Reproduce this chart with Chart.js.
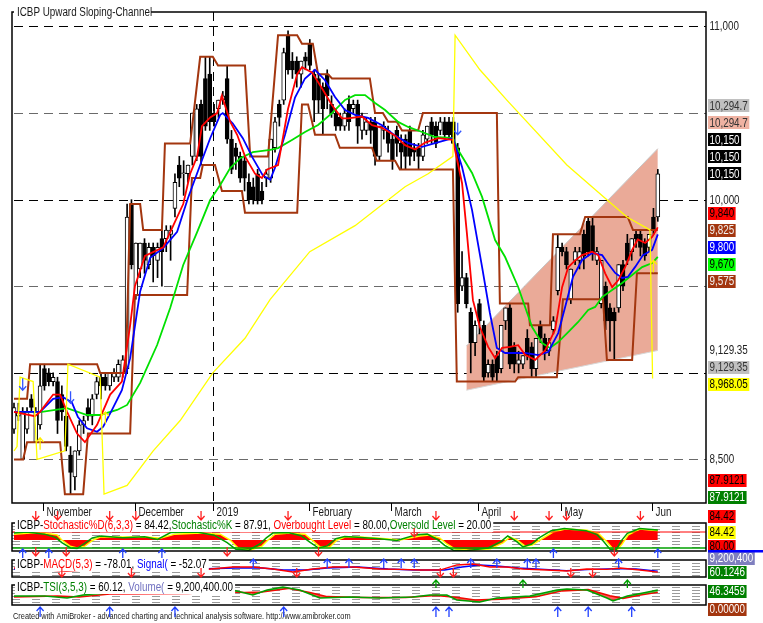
<!DOCTYPE html>
<html><head><meta charset="utf-8"><title>ICBP Upward Sloping Channel</title>
<script src="https://cdn.jsdelivr.net/npm/chart.js@4.4.1/dist/chart.umd.min.js"></script>
<style>
html,body{margin:0;padding:0;background:#fff;overflow:hidden}
#wrap{position:relative;width:763px;height:623px;background:#fff}
#wrap canvas{position:absolute;left:0;top:0}
</style></head><body>
<div id="wrap">
<canvas id="cMain" width="763" height="623"></canvas>
<canvas id="cStoch" width="763" height="623"></canvas>
<canvas id="cMacd" width="763" height="623"></canvas>
<canvas id="cTsi" width="763" height="623"></canvas>
</div>
<script>
// ---------------- DATA ----------------
const ticker = 'ICBP';
const chartTitle = 'Upward Sloping-Channel';
const monthNames = ['November','December','2019','February','March','April','May','Jun'];
const monthIdx   = [7, 28, 46, 68, 87, 107, 126, 147];

const opens = [8675,8750,8500,8675,8850,8600,8700,9025,9000,8950, 8950,8875,8750,8525,8400,8550,8700,8800,8750,8875,
 8975,8975,8925,8975,8975,9000,9025,9975,9450,9600, 9750,9625,9725,9650,9775,9775,9800,9950,10200,10150,
 10150,10250,10250,10550,10700,10725,10500,10525,10575,10700, 10350,10300,10250,10225,10100,10075,10150,10050,10125,10125,
 10300,10550,10575,10950,10800,10800,10725,10825,10900,10725, 10700,10650,10725,10550,10500,10475,10425,10550,10525,10550,
 10400,10400,10450,10450,10250,10400,10400,10350,10400,10325, 10350,10400,10300,10300,10250,10350,10450,10425,10400,10450,
 10450,10450,10300,9500,9550,9350,9175,9400,9275,9000, 9050,9100,9025,9300,9375,9150,9050,9050,9200,9150,
 9025,9275,9200,9125,9250,9475,9725,9700,9425,9650, 9650,9800,9875,9850,9650,9400,9500,9375,9350,9375,
 9625,9750,9700,9800,9800,9750,9725,9900,9900];
const highs = [8825,8825,8800,8800,8875,8800,9050,9050,9025,9000, 8975,8925,8800,8575,8550,8725,8750,8850,8875,8975,
 9000,9000,9000,9025,9075,9100,9975,10000,9750,9750, 9775,9750,9750,9750,9825,9850,9850,10150,10250,10225,
 10200,10500,10550,10575,10825,10825,10550,10575,10625,10775, 10400,10325,10275,10250,10150,10125,10175,10100,10175,10350,
 10475,10575,10875,10975,10850,10825,10800,10850,10925,10750, 10725,10675,10750,10600,10525,10500,10525,10600,10575,10575,
 10500,10475,10475,10475,10425,10450,10425,10375,10425,10375, 10375,10425,10325,10325,10400,10425,10475,10450,10475,10475,
 10475,10475,10325,9700,9575,9375,9300,9425,9300,9075, 9075,9125,9275,9375,9400,9175,9125,9100,9250,9175,
 9200,9300,9225,9200,9325,9800,9750,9725,9600,9725, 9725,9825,9900,9900,9725,9650,9525,9400,9375,9625,
 9650,9800,9775,9825,9825,9775,9800,9950,10175];
const lows = [8650,8725,8500,8650,8775,8600,8675,8900,8925,8925, 8650,8725,8550,8300,8325,8525,8650,8725,8700,8850,
 8850,8900,8900,8950,8950,8975,9000,9600,9425,9550, 9575,9600,9525,9550,9500,9700,9650,9900,10075,10025,
 10100,10200,10225,10200,10400,10400,10425,10475,10550,10325, 10150,10175,10100,10050,9975,9975,9975,9975,10075,10100,
 10275,10425,10550,10725,10700,10650,10650,10750,10750,10450, 10500,10375,10525,10475,10400,10400,10400,10400,10500,10325,
 10350,10375,10325,10200,10225,10350,10275,10175,10250,10175, 10175,10200,10225,10175,10225,10325,10325,10300,10375,10350,
 10350,10325,9350,9475,9375,9000,9100,9225,8950,8975, 8950,8950,9000,9250,9025,9000,9000,9025,9075,8975,
 8975,9175,9075,9100,9225,9450,9675,9600,9400,9625, 9600,9600,9675,9650,9625,9375,9250,9125,9075,9350,
 9475,9625,9650,9725,9675,9650,9700,9800,9875];
const closes = [8800,8775,8775,8775,8800,8775,8925,8925,8950,8975, 8725,8775,8575,8425,8550,8700,8725,8750,8850,8950,
 8925,8925,9000,9000,9050,9075,9900,9625,9750,9750, 9650,9725,9675,9725,9700,9825,9825,10100,10125,10150,
 10200,10500,10525,10250,10425,10450,10450,10575,10600,10350, 10175,10250,10125,10125,10000,10000,10000,10000,10150,10350,
 10450,10475,10850,10750,10750,10725,10800,10800,10775,10575, 10575,10525,10600,10500,10425,10425,10500,10450,10550,10425,
 10475,10450,10400,10250,10425,10425,10325,10225,10325,10275, 10250,10250,10275,10250,10375,10425,10375,10325,10450,10375,
 10375,10325,9400,9550,9400,9175,9275,9300,8975,9050, 8975,9000,9275,9375,9050,9050,9075,9100,9100,9025,
 9200,9200,9125,9175,9300,9725,9700,9625,9600,9700, 9700,9675,9700,9700,9700,9650,9300,9300,9300,9625,
 9500,9650,9775,9775,9725,9675,9800,9825,10150];

// short average (red)
const redIdx = [0,4.8,6,9,10.6,12.2,14.5,16.3,19.1,22.1,24.8,26.7,27.8,30.1,34.3,36.6,38.9,40.5,42.1,43.2,45.1,46.7,47.8,49.7,51.3,53.1,55.4,57,58.2,60.7,63,65.1,66.2,68.5,71,73.1,75.4,76.8,80,82.3,84.6,87.6,89.9,92.2,94.5,97.5,100.9,103,104.1,105.5,107.1,109,110.6,112.2,114,115.9,117.5,119.8,122.1,124.4,126,127.4,129,130.6,132.9,134.3,135.9,137.5,138.9,140.5,142.1,143.4,145.1,146.7,148];
const redVal = [8775,8750,8775,8875,8875,8775,8650,8600,8700,8875,8950,9275,9500,9675,9725,9850,9975,10150,10250,10425,10475,10500,10600,10450,10375,10250,10150,10125,10175,10200,10525,10725,10765,10735,10635,10545,10470,10470,10480,10430,10415,10370,10315,10290,10330,10355,10345,10095,9810,9420,9265,9150,9085,9145,9150,9160,9105,9075,9130,9250,9495,9610,9650,9680,9700,9680,9575,9495,9535,9610,9710,9770,9750,9785,9840];
// medium average (blue)
const blueIdx = [0,6,9,11.3,13.3,14.7,16.8,19.1,20.5,22.5,24.8,26.7,29,31.3,34.3,37.5,40,42.8,45.1,47.4,48,50.3,52.6,54.9,57.2,58.9,60,62.3,64.6,66.9,69.2,71.5,73.8,76.1,78.4,81.4,84.6,87.6,90.6,93.8,96.8,100.9,103,105.3,107.6,109.4,111,112.9,115.2,117.5,120.5,122.8,125.1,126.7,128.5,130.6,132.9,135.2,136.3,138.2,139.8,141.1,142.8,144.6,146.7,148];
const blueVal = [8775,8775,8850,8860,8830,8745,8680,8660,8690,8785,8900,9085,9470,9665,9720,9815,10010,10200,10355,10490,10500,10440,10355,10240,10140,10115,10185,10375,10590,10700,10750,10690,10593,10518,10490,10472,10430,10370,10327,10305,10327,10356,10189,9940,9612,9346,9144,9115,9115,9115,9103,9120,9230,9380,9554,9652,9692,9680,9640,9577,9548,9554,9612,9680,9710,9800];
// long average (green)
const greenIdx = [0,6.4,12.2,16.8,19.8,23.7,26,29,32.9,35.9,38.9,42.1,45.1,47.4,49.7,52,54.9,58.9,60.7,63.9,66.9,69.9,73.1,76.1,78.4,80.7,83,85.3,88.3,90.6,93.8,96.8,100.9,102.1,105.3,107.6,110.6,112.9,115.9,119.1,121.4,123.2,125.1,127.4,129.7,132,133.6,135.2,137.5,139.8,142.1,144.4,146.7,148];
const greenVal = [8775,8775,8797,8757,8757,8786,8815,8942,9161,9375,9623,9813,9998,10085,10183,10240,10275,10287,10298,10345,10391,10431,10500,10576,10604,10604,10558,10518,10449,10420,10391,10362,10356,10287,10154,10016,9767,9669,9496,9265,9172,9144,9178,9236,9294,9363,9381,9438,9479,9519,9565,9611,9634,9670];
// yellow line
const yellowIdx = [0,0.7,1.4,4.4,5.3,11.7,12.4,19.8,20.7,26,32,38.2,45.7,53.1,58.9,68,78.4,89.9,95.2,100.9,101.4,107.1,113.3,127.1,136.3,140.9,146.2,146.8];
const yellowVal = [8550,8575,8975,8950,8500,8550,9050,8975,8300,8350,8550,8725,9000,9200,9425,9700,9850,10075,10150,10250,10950,10750,10575,10200,10000,9900,9825,8968.05];
// brown price channel
const upIdx = [0,3,3.7,19.1,19.8,25.7,26.7,29,29.7,34,34.7,40.5,42.8,45.7,46.9,53.1,54.3,58.4,60.7,65.1,66.2,68.7,69.9,72.2,73.1,81.8,83,84.8,86,88,89.2,92.9,94,111,111.7,118.2,118.6,123.2,123.9,130.1,131.3,141.1,142.3,148];
const upVal = [8850,8850,9050,9050,9000,9000,9975,9975,9825,9825,10325,10325,10825,10825,10775,10775,10250,10250,10950,10950,10900,10900,10725,10725,10700,10700,10500,10500,10450,10450,10400,10400,10500,10500,9400,9400,9275,9275,9800,9800,9900,9900,9825,9825];
const loIdx = [0,2.1,3,10.6,11.7,15.9,17,26.7,27.8,39.8,40.9,42.8,43.4,46.2,47.8,52.4,53.1,65.1,66.2,67.6,69.2,73.8,74.9,82.3,83.4,87.6,88.7,100.9,101.8,115.2,115.9,124.8,126.2,135.4,136.3,142.1,143.2,148];
const loVal = [8500,8500,8600,8600,8300,8300,8650,8650,9450,9450,10125,10125,10200,10200,10050,10050,9925,9925,10550,10550,10375,10375,10300,10300,10225,10225,10175,10175,8950,8950,8975,8975,9425,9425,9075,9075,9575,9575];
// upward sloping regression channel
const chanIdx = [104, 148];
const chanUp = [9155, 10294.7];
const chanLo = [8900, 9129.35];
// signal arrows on price
const blueDownIdx = [2, 13, 102];
const blueDownVal = [8900, 8825, 10375];
const yellowUpIdx = [6, 21, 147];
const yellowUpVal = [8625, 8775, 9650];

// Stochastic
const stochDIdx = [0,3.7,7.1,9.9,11,12.9,14.5,16.3,18.2,19.8,24.4,30.6,33.6,37,42.8,47.4,49.7,51.5,54.3,57,58.4,60,63.4,66.9,68.5,70.3,72.6,74.3,76.1,79.5,84.1,88.7,93.3,95.6,97.9,99.5,101.4,104.8,109.4,112.4,114,115.6,117.5,119.1,120.9,123.9,126.7,131.7,134.3,135.9,137.5,138.6,139.8,141.2,143.9,148];
const stochDVal = [72,76,76,69,50,27,20,27,50,61,61,61,57,72,76,72,50,20,12,27,50,72,76,72,50,24,24,50,61,61,57,50,65,69,57,35,16,12,16,39,61,50,27,31,50,80,91,87,76,50,20,12,35,69,91,84.42];
const stochKIdx = [0,3,7,9.5,11,13,14.5,16,18,20,25,30,33,36,42,46,49,51,54,56.5,58,59.5,63,66,68,70,72,74,76,79,84,88,92.5,95,97.5,99,101,104,109,112,113.5,115.5,117,119,120.5,123.5,126.5,131.5,134,135.5,137,138.5,139.5,141,143.8,148];
const stochKVal = [76,80,72,60,40,20,18,35,58,65,58,62,52,78,80,68,40,15,12,35,58,76,78,66,42,20,28,55,63,60,55,48,70,72,50,30,12,10,20,45,65,45,24,35,56,85,93,85,70,45,15,15,45,75,93,87.9121];
const overbought = 80, oversold = 20, stochMid = 50;
const stochTopSell = [5,10,22,28,43,63,97,115,123,127,144];
const stochInSell = [92];
const stochBuy = [2,8,25,34,124,148];
const stochSell = [5,12,49,70,138];

// MACD
const macdIdx = [0,12,20,28,36,42.8,50.3,54.9,59.5,64.1,68.7,73.3,77.9,84.1,88.7,93.3,97.9,101.8,105.5,109.4,113.3,117,122.5,127.1,131.7,136.3,139.3,143.9,148];
const macdVal = [25,-50,0,100,50,-25,50,50,0,-75,0,50,50,0,-10,-25,-25,100,125,50,50,0,-25,-50,0,-10,25,-25,-78.01];
const sigIdx = [0,14,24,30,42,51,57,62,67,72,79,86,92,99,103,107,111,116,122,127,133,138,143,148];
const sigVal = [0,-25,0,75,0,25,25,-25,-25,25,50,0,-25,-25,50,100,75,25,-10,-40,-10,10,0,-52.07];
const macdBuy = [55,72,77,85,89,92,105,111,118,120,139];
const macdSell = [11,27,43,65,98,101,128,133];

// TSI
const tsiIdx = [0,7.1,12.2,15.9,19.8,35.2,42.8,50.3,54.9,58.2,61.8,65.7,70.3,77.2,84.1,91.7,95.6,99.5,101.8,107.1,111,118.6,124.8,127.1,131.7,136.3,137.7,141,144.6,148];
const tsiVal = [24,24,12,30,42,42,42,60,30,60,78,60,12,18,12,18,30,30,0,-12,12,24,60,66,60,12,-6,24,42,60.1246];
const tsiSigIdx = [0,10,15,22,40,48,53,57,63,68,72,80,90,97,102,106,112,120,126,132,137,140,144,148];
const tsiSigVal = [18,24,18,36,40,50,45,48,70,45,20,15,15,28,15,0,5,20,55,62,25,10,30,46.3459];
const lastVolume = 9200400;
const volumeBase = 0;
const tsiUp = [97,117,141];
const tsiBuy = [6,22,37,62,97,100,125,132,142];

// ---------------- HELPERS ----------------
const X_MIN = -0.46, X_MAX = 159.08;
const pts = (idx, val) => idx.map((x, k) => ({x: x, y: val[k]}));
const last = a => a[a.length - 1];
const fmt = v => v.toLocaleString('en-US', {maximumFractionDigits: 2});

const NARROW = (() => {
  const c = document.createElement('canvas').getContext('2d');
  c.font = '20px monospace'; const w1 = c.measureText('abcdefghij ICBP 123').width;
  c.font = '20px "Liberation Sans Narrow", monospace'; const w2 = c.measureText('abcdefghij ICBP 123').width;
  return Math.abs(w1 - w2) > 0.5;
})();
const SX = NARROW ? 1 : 0.82;
function setFont(ctx, size) {
  ctx.font = size + 'px ' + (NARROW ? '"Liberation Sans Narrow"' : '"Liberation Sans", Arial, sans-serif');
}
function textW(ctx, s, size) { setFont(ctx, size); return ctx.measureText(s).width * SX; }
function drawText(ctx, s, x, y, size, color) {
  ctx.save(); setFont(ctx, size); ctx.fillStyle = color; ctx.textBaseline = 'middle'; ctx.textAlign = 'left';
  ctx.translate(x, y); ctx.scale(SX, 1); ctx.fillText(s, 0, 0); ctx.restore();
}
function drawRich(ctx, parts, x, y, size) {
  let w = 0; parts.forEach(p => { w += textW(ctx, p[0], size); });
  ctx.save(); ctx.fillStyle = '#fff'; ctx.fillRect(x - 2, y - 6, w + 4, 12); ctx.restore();
  let cx = x;
  parts.forEach(p => { drawText(ctx, p[0], cx, y, size, p[1]); cx += textW(ctx, p[0], size); });
}
function arrow(ctx, x, tip, dir, color, len) {
  len = len || 10;
  ctx.save(); ctx.strokeStyle = color; ctx.lineWidth = 1.3; ctx.setLineDash([]);
  const tail = dir === 1 ? tip + len : tip - len;
  const hy = dir === 1 ? tip + 4 : tip - 4;
  ctx.beginPath();
  ctx.moveTo(x, tail); ctx.lineTo(x, tip);
  ctx.moveTo(x - 3.5, hy); ctx.lineTo(x, tip); ctx.lineTo(x + 3.5, hy);
  ctx.stroke(); ctx.restore();
}
function labelBox(ctx, text, y, bg, fg) {
  const size = 12;
  const w = textW(ctx, text, size);
  if (bg) { ctx.save(); ctx.fillStyle = bg; ctx.fillRect(708, Math.round(y - 6.5), w + 3, 13); ctx.restore(); }
  drawText(ctx, text, 709.5, y + 0.5, size, fg || '#222');
}
// greedy placement: each label takes the free slot nearest to its own value
function placeLabels(fixed, items) {
  const placed = fixed.map(f => ({y: f.y0, grid: true}));
  const sep = q => q.grid ? 13 : 17;
  items.forEach(it => {
    const cands = [it.y0];
    placed.forEach(q => { cands.push(q.y - sep(q), q.y + sep(q)); });
    cands.sort((a, b) => (Math.abs(a - it.y0) - Math.abs(b - it.y0)) || (b - a));
    const ok = c => placed.every(q => Math.abs(c - q.y) >= sep(q) - 0.01);
    it.y = cands.find(ok);
    if (it.y === undefined) it.y = it.y0;
    placed.push({y: it.y, grid: false});
  });
}
function denseGrid(ctx, a, y1, y2) {
  ctx.save(); ctx.strokeStyle = '#9a9a9a'; ctx.lineWidth = 1; ctx.setLineDash([8, 12]);
  for (let y = y1; y <= y2; y += 3) { ctx.beginPath(); ctx.moveTo(a.left, y + 0.5); ctx.lineTo(a.right, y + 0.5); ctx.stroke(); }
  ctx.restore();
}
function frame(ctx, a) {
  ctx.save(); ctx.strokeStyle = '#000'; ctx.lineWidth = 1.5; ctx.setLineDash([]);
  ctx.strokeRect(a.left, a.top, a.right - a.left, a.bottom - a.top); ctx.restore();
}
const baseOpts = (padTop, padBottom, yMin, yMax) => ({
  responsive: false, animation: false, devicePixelRatio: 1, events: [],
  layout: {padding: {left: 12, top: padTop, right: 57, bottom: padBottom}},
  plugins: {legend: {display: false}, tooltip: {enabled: false}},
  scales: {
    x: {type: 'linear', min: X_MIN, max: X_MAX, display: false, offset: false},
    y: {type: 'linear', min: yMin, max: yMax, display: false}
  }
});
const lineDs = (data, color, width, order, extra) => Object.assign({
  type: 'line', data: data, borderColor: color, borderWidth: width, pointRadius: 0, tension: 0, fill: false, order: order
}, extra || {});

// ---------------- MAIN PRICE PANEL ----------------
const barIdx = opens.map((o, i) => i);
const bodyData = barIdx.map(i => ({x: i, y: [Math.min(opens[i], closes[i]), Math.max(opens[i], closes[i])]}));
const wickData = barIdx.map(i => ({x: i, y: [lows[i], highs[i]]}));
const bodyColors = barIdx.map(i => closes[i] >= opens[i] ? '#ffffff' : '#000000');
const gridVals = [11000, 10500, 10000, 9500, 9000, 8500];
const gridLabelVals = [11000, 10000, 8500];

const mainDecor = {
  id: 'mainDecor',
  beforeDatasetsDraw(chart) {
    const {ctx, chartArea: a, scales: {x, y}} = chart;
    ctx.save(); ctx.lineWidth = 1; ctx.setLineDash([9, 6]);
    gridVals.forEach(v => {
      const py = Math.round(y.getPixelForValue(v)) + 0.5;
      ctx.strokeStyle = v % 1000 === 0 ? '#000' : '#6a6a6a';
      ctx.beginPath(); ctx.moveTo(a.left + 2, py); ctx.lineTo(a.right, py); ctx.stroke();
    });
    const yx = Math.round(x.getPixelForValue(monthIdx[2])) - 0.5;
    ctx.strokeStyle = '#000';
    ctx.beginPath(); ctx.moveTo(yx, a.top); ctx.lineTo(yx, a.bottom); ctx.stroke();
    ctx.restore();
  },
  afterDraw(chart) {
    const {ctx, chartArea: a, scales: {x, y}} = chart;
    frame(ctx, a);
    // title
    ctx.save(); ctx.fillStyle = '#fff'; ctx.fillRect(14, 5, 137, 14); ctx.restore();
    drawText(ctx, ticker + ' ' + chartTitle, 17, 12.5, 12, '#1a1a1a');
    // month axis
    ctx.save(); ctx.strokeStyle = '#000'; ctx.lineWidth = 1;
    monthIdx.forEach((mi, k) => {
      const px = Math.round(x.getPixelForValue(mi)) - 0.5;
      ctx.beginPath(); ctx.moveTo(px, a.bottom); ctx.lineTo(px, a.bottom + 8); ctx.stroke();
      drawText(ctx, monthNames[k], px + 3, a.bottom + 10, 12, '#1a1a1a');
    });
    ctx.restore();
    // price arrows
    blueDownIdx.forEach((bi, k) => arrow(ctx, x.getPixelForValue(bi), y.getPixelForValue(blueDownVal[k]), -1, '#3355ff', 12));
    yellowUpIdx.forEach((bi, k) => arrow(ctx, x.getPixelForValue(bi), y.getPixelForValue(yellowUpVal[k]), 1, '#ffee00', 12));
    // right value labels
    const fixed = gridLabelVals.map(v => ({t: fmt(v), y0: y.getPixelForValue(v)}));
    const items = [
      {t: fmt(last(closes)), v: last(closes), bg: '#000', fg: '#fff'},
      {t: fmt(last(closes)), v: last(closes), bg: '#000', fg: '#fff'},
      {t: fmt(last(closes)), v: last(closes), bg: '#000', fg: '#fff'},
      {t: fmt(chanUp[1]), v: chanUp[1], bg: '#efb2a2', fg: '#333'},
      {t: fmt(chanUp[1]), v: chanUp[1], bg: '#c0c0c0', fg: '#333'},
      {t: fmt(last(upVal)), v: last(upVal), bg: '#a3360f', fg: '#f2f2f2'},
      {t: fmt(last(redVal)), v: last(redVal), bg: '#ff0000', fg: '#000'},
      {t: fmt(last(blueVal)), v: last(blueVal), bg: '#0000ff', fg: '#fff'},
      {t: fmt(last(greenVal)), v: last(greenVal), bg: '#00ff00', fg: '#000'},
      {t: fmt(last(loVal)), v: last(loVal), bg: '#a3360f', fg: '#f2f2f2'},
      {t: fmt(chanLo[1]), v: chanLo[1]},
      {t: fmt(chanLo[1]), v: chanLo[1], bg: '#c0c0c0', fg: '#333'},
      {t: fmt(last(yellowVal)), v: last(yellowVal), bg: '#ffff00', fg: '#000'}
    ];
    items.forEach(it => { it.y0 = y.getPixelForValue(it.v); });
    placeLabels(fixed, items);
    fixed.forEach(f => labelBox(ctx, f.t, f.y0));
    items.forEach(it => labelBox(ctx, it.t, it.y, it.bg, it.fg));
    // indicator value labels column
    const sub = [
      {t: last(stochKVal).toFixed(4), y: 480.5, bg: '#ff0000', fg: '#000'},
      {t: last(stochKVal).toFixed(4), y: 497.5, bg: '#008000', fg: '#fff'},
      {t: last(stochDVal).toFixed(2), y: 516, bg: '#ff0000', fg: '#000'},
      {t: last(stochDVal).toFixed(2), y: 532.5, bg: '#ffff00', fg: '#000'},
      {t: overbought.toFixed(2), y: 546, bg: '#ff0000', fg: '#000'},
      {t: fmt(lastVolume), y: 558.5, bg: '#7f7fbf', fg: '#fff'},
      {t: last(tsiVal).toFixed(4), y: 572.5, bg: '#008000', fg: '#fff'},
      {t: last(tsiSigVal).toFixed(4), y: 591, bg: '#008000', fg: '#fff'},
      {t: volumeBase.toFixed(5), y: 609, bg: '#a3360f', fg: '#fff'}
    ];
    sub.forEach(s => labelBox(ctx, s.t, s.y, s.bg, s.fg));
    ctx.save(); ctx.fillStyle = '#0000ff'; ctx.fillRect(708, 550, 55, 2.5); ctx.restore();
    // footer
    drawText(ctx, 'Created with AmiBroker - advanced charting and technical analysis software. http://www.amibroker.com', 13, 617, 9, '#222');
  }
};

new Chart(document.getElementById('cMain'), {
  type: 'bar',
  data: {datasets: [
    lineDs(pts(chanIdx, chanUp), '#c4c4c4', 1, 98),
    lineDs(pts(chanIdx, chanLo), '#d8d8d8', 1, 99, {fill: '-1', backgroundColor: 'rgb(234,170,152)'}),
    {type: 'bar', data: wickData, backgroundColor: '#000', borderWidth: 0, barThickness: 1, grouped: false, order: 60},
    {type: 'bar', data: bodyData, backgroundColor: bodyColors, borderColor: '#000', borderWidth: 1, borderSkipped: false,
     barThickness: 4, grouped: false, minBarLength: 1, order: 50},
    lineDs(pts(upIdx, upVal), '#a3360f', 2, 40),
    lineDs(pts(loIdx, loVal), '#a3360f', 2, 40),
    lineDs(pts(greenIdx, greenVal), '#00e000', 1.8, 30),
    lineDs(pts(blueIdx, blueVal), '#0000ff', 1.8, 20),
    lineDs(pts(redIdx, redVal), '#ff0000', 1.8, 10),
    lineDs(pts(yellowIdx, yellowVal), '#ffff00', 1.3, 5)
  ]},
  options: baseOpts(12, 120, 8248.8, 11083.7),
  plugins: [mainDecor]
});

// ---------------- STOCHASTIC PANEL ----------------
new Chart(document.getElementById('cStoch'), {
  type: 'line',
  data: {datasets: [
    lineDs(pts(stochKIdx, stochKVal), '#00a000', 1.5, 1),
    lineDs(pts(stochDIdx, stochDVal), '#ffff00', 1.5, 3, {fill: {value: stochMid}, backgroundColor: '#ff0000'}),
    lineDs([{x: X_MIN, y: overbought}, {x: X_MAX, y: overbought}], '#ff0000', 1, 2),
    lineDs([{x: X_MIN, y: oversold}, {x: X_MAX, y: oversold}], '#00a000', 1.5, 2)
  ]},
  options: baseOpts(523, 72, 8.75, 113.75),
  plugins: [{
    id: 'stochDecor',
    beforeDatasetsDraw(chart) { denseGrid(chart.ctx, chart.chartArea, 526, 549); },
    afterDraw(chart) {
      const {ctx, chartArea: a, scales: {x}} = chart;
      frame(ctx, a);
      drawRich(ctx, [[ticker + '-', '#000'], ['Stochastic%D(6,3,3)', '#ff0000'], [' = ' + last(stochDVal).toFixed(2) + ',', '#000'],
        ['Stochastic%K', '#008000'], [' = ' + last(stochKVal).toFixed(2) + ', ', '#000'], ['Overbought Level', '#ff0000'],
        [' = ' + overbought.toFixed(2) + ',', '#000'], ['Oversold Level', '#008000'], [' = ' + oversold.toFixed(2), '#000']], 17, 526, 12);
      stochTopSell.forEach(i => arrow(ctx, x.getPixelForValue(i), 520, -1, '#ff2020', 9));
      stochInSell.forEach(i => arrow(ctx, x.getPixelForValue(i), 537, -1, '#ff2020', 9));
      stochBuy.forEach(i => arrow(ctx, x.getPixelForValue(i), 549, 1, '#2040ff', 9));
      stochSell.forEach(i => arrow(ctx, x.getPixelForValue(i), 556, -1, '#ff2020', 9));
    }
  }]
});

// ---------------- MACD PANEL ----------------
new Chart(document.getElementById('cMacd'), {
  type: 'line',
  data: {datasets: [
    lineDs(pts(macdIdx, macdVal), '#ff0000', 1.3, 1),
    lineDs(pts(sigIdx, sigVal), '#0000ff', 1.3, 2)
  ]},
  options: baseOpts(560, 46, -200, 225),
  plugins: [{
    id: 'macdDecor',
    beforeDatasetsDraw(chart) { denseGrid(chart.ctx, chart.chartArea, 563, 575); },
    afterDraw(chart) {
      const {ctx, chartArea: a, scales: {x}} = chart;
      frame(ctx, a);
      drawRich(ctx, [[ticker + '-', '#000'], ['MACD(5,3)', '#ff0000'], [' = ' + last(macdVal).toFixed(2) + ', ', '#000'],
        ['Signal(', '#0000ff'], [' = ' + last(sigVal).toFixed(2), '#000']], 17, 565, 12);
      macdBuy.forEach(i => arrow(ctx, x.getPixelForValue(i), 559, 1, '#2040ff', 9));
      macdSell.forEach(i => arrow(ctx, x.getPixelForValue(i), 577, -1, '#ff2020', 9));
    }
  }]
});

// ---------------- TSI PANEL ----------------
new Chart(document.getElementById('cTsi'), {
  type: 'line',
  data: {datasets: [
    lineDs(pts(tsiIdx, tsiVal), '#00a000', 1.6, 1, {fill: {target: 1, above: 'rgba(0,170,0,0.55)', below: 'rgba(255,0,0,0.65)'}}),
    lineDs(pts(tsiSigIdx, tsiSigVal), '#ff0000', 1.6, 2)
  ]},
  options: baseOpts(585, 18, -30, 90),
  plugins: [{
    id: 'tsiDecor',
    beforeDatasetsDraw(chart) { denseGrid(chart.ctx, chart.chartArea, 587, 603); },
    afterDraw(chart) {
      const {ctx, chartArea: a, scales: {x}} = chart;
      frame(ctx, a);
      drawRich(ctx, [[ticker + '-', '#000'], ['TSI(3,5,3)', '#008000'], [' = ' + last(tsiVal).toFixed(2) + ', ', '#000'],
        ['Volume(', '#7070c0'], [' = ' + lastVolume.toLocaleString('en-US', {minimumFractionDigits: 2}), '#000']], 17, 588, 12);
      tsiUp.forEach(i => arrow(ctx, x.getPixelForValue(i), 580, 1, '#00a000', 8));
      tsiBuy.forEach(i => arrow(ctx, x.getPixelForValue(i), 607, 1, '#2040ff', 10));
    }
  }]
});
</script>
</body></html>
